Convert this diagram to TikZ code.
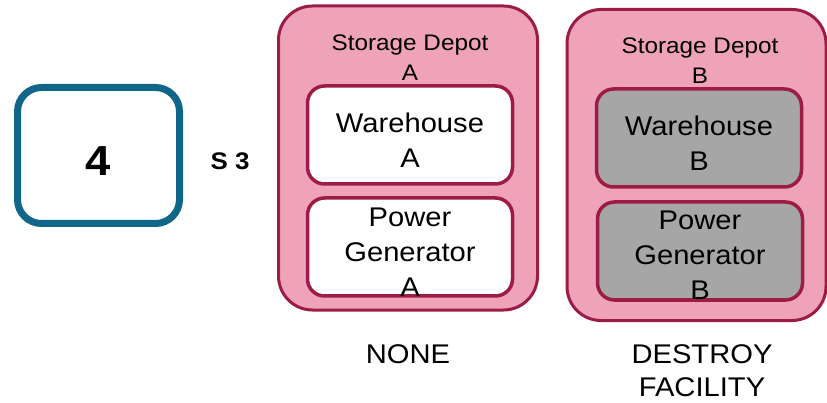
\documentclass[tikz,border=0pt]{standalone}
\usepackage{fontspec}
\setmainfont[FakeStretch=1.08]{Liberation Sans}
\usetikzlibrary{positioning}
\definecolor{stepblue}{HTML}{0F6689}
\definecolor{depotpink}{HTML}{EEA3B8}
\definecolor{depotred}{HTML}{9C1C46}
\definecolor{lostgray}{HTML}{A6A6A6}
\tikzset{stepbox/.style={draw=stepblue, line width=7pt, rounded corners=24pt,
           minimum width=162pt, minimum height=136pt, inner sep=0pt,
           text height=41pt, font=\fontsize{42}{48}\selectfont\bfseries},
         depot/.style={draw=depotred, fill=depotpink, line width=3pt,
           rounded corners=34pt, minimum width=259pt, inner sep=0pt},
         facility/.style={draw=depotred, fill=white, line width=3.5pt,
           rounded corners=17pt, minimum width=205pt, minimum height=98pt,
           inner sep=0pt},
         destroyed/.style={facility, fill=lostgray},
         facilitytext/.style={align=center, inner sep=0pt, font=\fontsize{27}{35}\selectfont},
         depotlabel/.style={align=center, inner sep=0pt, font=\fontsize{22.5}{30}\selectfont},
         action/.style={align=center, inner sep=0pt, font=\fontsize{27}{33}\selectfont}}
\begin{document}
\begin{tikzpicture}[x=1pt,y=-1pt]
\useasboundingbox (0,0) rectangle (827,403);
% step and state
\node[stepbox] (step) at (98.5,155.5) {4};
\node[inner sep=0pt, font=\fontsize{24}{28}\selectfont\bfseries] (state) at (230,161) {S 3};
% depot A
\node[depot, minimum height=304pt] (depotA) at (408,158) {};
\node[depotlabel] (nameA) at (410,58) {Storage Depot\\A};
\node[facility] (houseA) at (410,135) {};
\node[facilitytext] (houseAtext) at ([yshift=-5pt]houseA.center) {Warehouse\\A};
\node[facility] (powerA) at (410,247) {};
\node[facilitytext] (powerAtext) at ([yshift=-5pt]powerA.center) {Power\\Generator\\A};
\node[action] (noneA) at (408,354) {NONE};
% depot B
\node[depot, minimum height=311pt] (depotB) at (696.5,165) {};
\node[depotlabel] (nameB) at (700,61) {Storage Depot\\B};
\node[destroyed] (houseB) at (699,138) {};
\node[facilitytext] (houseBtext) at ([yshift=-5pt]houseB.center) {Warehouse\\B};
\node[destroyed] (powerB) at (700,251) {};
\node[facilitytext] (powerBtext) at ([yshift=-4pt]powerB.center) {Power\\Generator\\B};
\node[action] (destroyB) at (702,371) {DESTROY\\FACILITY};
\end{tikzpicture}
\end{document}
